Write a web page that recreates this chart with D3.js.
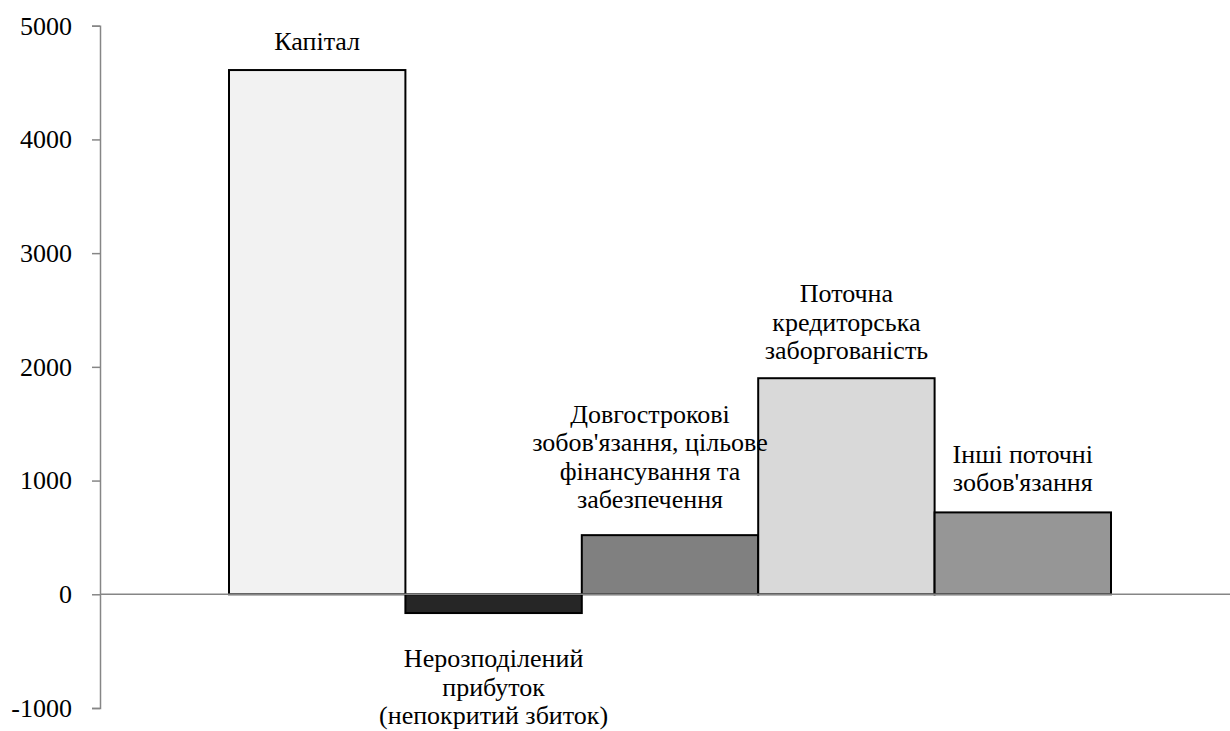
<!DOCTYPE html>
<html>
<head>
<meta charset="UTF-8"/>
<script src="https://d3js.org/d3.v7.min.js"></script>
<style>
  body { margin: 0; background: #fff; }
  svg text { font-family: "Liberation Serif", "Times New Roman", serif; }
</style>
</head>
<body>
<script>
// balance items
var categories = ["Капітал", "Нерозподілений прибуток", "Довгострокові зобов'язання", "Поточна кредиторська заборгованість", "Інші поточні зобов'язання"];
var values     = [4610, -165, 520, 1900, 720];
var colors     = ["#f2f2f2", "#262626", "#808080", "#d9d9d9", "#969696"];
// wrapped labels, one array of lines per bar
var labelLines = [
    ["Капітал"],
    ["Нерозподілений", "прибуток", "(непокритий збиток)"],
    ["Довгострокові", "зобов'язання, цільове", "фінансування та", "забезпечення"],
    ["Поточна", "кредиторська", "заборгованість"],
    ["Інші поточні", "зобов'язання"]
];
var yTicks = [-1000, 0, 1000, 2000, 3000, 4000, 5000];

var w = 1230, h = 731;
var axisX = 100;
var fontSize = 26, lineH = 28.5;

var svg = d3.select("body").append("svg")
    .attr("width", w)
    .attr("height", h);

var yScale = d3.scaleLinear()
    .domain([-1000, 5000])
    .range([708, 25.7]);

var xScale = d3.scaleBand()
    .domain(categories)
    .range([229, 1111])
    .padding(0);

// bars
svg.selectAll("rect.bar")
   .data(values)
   .enter()
   .append("rect")
   .attr("class", "bar")
   .attr("x", function(d, i) { return xScale(categories[i]); })
   .attr("y", function(d) { return yScale(Math.max(0, d)); })
   .attr("width", xScale.bandwidth())
   .attr("height", function(d) { return Math.abs(yScale(d) - yScale(0)); })
   .attr("fill", function(d, i) { return colors[i]; })
   .attr("stroke", "#000")
   .attr("stroke-width", 2);

// y axis
var yAxis = d3.axisLeft(yScale)
    .tickValues(yTicks)
    .tickSize(8)
    .tickPadding(20)
    .tickFormat(function(d) { return String(d); });

var gy = svg.append("g")
   .attr("transform", "translate(" + axisX + ",0)")
   .call(yAxis)
   .attr("font-family", "Liberation Serif")
   .attr("font-size", fontSize);
gy.select(".domain").attr("stroke", "#868686").attr("stroke-width", 1.5);
gy.selectAll(".tick line").attr("stroke", "#868686").attr("stroke-width", 1.5);
gy.selectAll(".tick text").attr("fill", "#000");

// zero line across the plot
svg.append("line")
   .attr("x1", axisX)
   .attr("x2", w)
   .attr("y1", yScale(0))
   .attr("y2", yScale(0))
   .attr("stroke", "#868686")
   .attr("stroke-width", 1.5);

// labels: above positive bars, below negative ones
var labelOffsetX = [0, 0, -20, 0, 0];
var labelGap     = [20, 54, 27, 19, 21];
categories.forEach(function(c, i) {
    var lines = labelLines[i];
    var cx = xScale(c) + xScale.bandwidth() / 2 + labelOffsetX[i];
    var firstY;
    if (values[i] >= 0) {
        firstY = yScale(values[i]) - labelGap[i] - (lines.length - 1) * lineH;
    } else {
        firstY = yScale(values[i]) + labelGap[i];
    }
    var t = svg.append("text")
        .attr("text-anchor", "middle")
        .attr("font-family", "Liberation Serif")
        .attr("font-size", fontSize);
    lines.forEach(function(l, k) {
        t.append("tspan")
         .attr("x", cx)
         .attr("y", firstY + k * lineH)
         .text(l);
    });
});
</script>
</body>
</html>
